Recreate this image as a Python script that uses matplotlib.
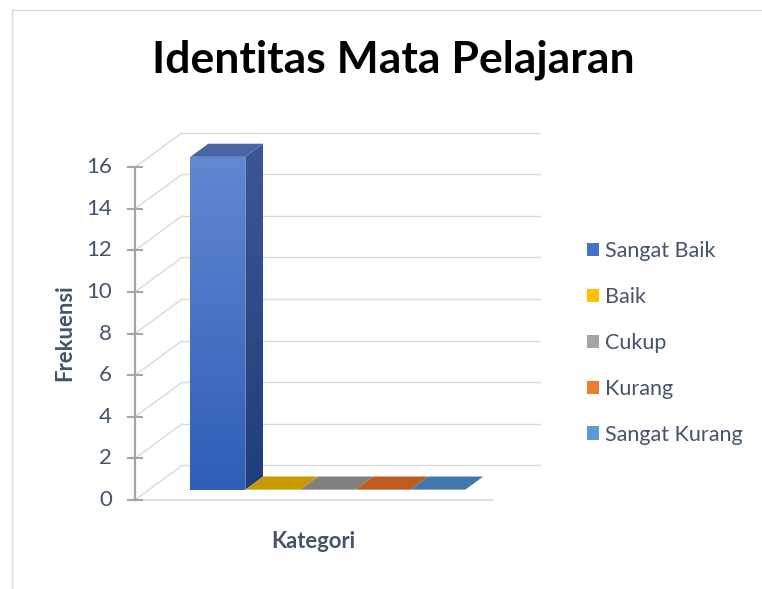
import numpy as np
import matplotlib.pyplot as plt
from matplotlib.patches import Polygon, Patch, Rectangle
from matplotlib.colors import LinearSegmentedColormap

# data
categories = ['Sangat Baik', 'Baik', 'Cukup', 'Kurang', 'Sangat Kurang']
frekuensi = [16, 0, 0, 0, 0]
y_ticks = [0, 2, 4, 6, 8, 10, 12, 14, 16]
legend_colors = ['#4472C4', '#FFC000', '#A5A5A5', '#ED7D31', '#5B9BD5']
top_colors = ['#4A65A3', '#C79A00', '#808080', '#BE5B1F', '#4177A9']

plt.rcParams['font.family'] = ['Lato', 'DejaVu Sans']
TXT = '#44546A'
GRID = '#D9D9D9'

fig = plt.figure(figsize=(7.62, 5.89), dpi=100)
ax = fig.add_axes([0, 0, 1, 1])
# one x unit = one column width, one y unit = one frequency step
ax.set_xlim(-135 / 55, 627 / 55)
ax.set_ylim(-89 / 20.8, 500 / 20.8)
ax.axis('off')

# oblique projection for the fake 3d look
DX, DY = 0.855, 1.66
W = 6.5
Z0, Z1 = 0.3, 0.68


def proj(x, y, z):
    return (x + z * DX, y + z * DY)


# back wall + left wall gridlines
for v in y_ticks:
    a, b = proj(0, v, 1), proj(W, v, 1)
    ax.plot([a[0], b[0]], [a[1], b[1]], color=GRID, lw=1, zorder=1)
    c = proj(0, v, 0)
    ax.plot([c[0], a[0]], [c[1], a[1]], color=GRID, lw=1, zorder=1)

# floor front edge
ax.plot([0, W], [0, 0], color=GRID, lw=1.2, zorder=1)

# vertical axis with crossing ticks
ax.plot([0, 0], [0, max(y_ticks)], color='#A6A6A6', lw=1.6, zorder=2)
for v in y_ticks:
    ax.plot([-0.13, 0.13], [v, v], color='#A6A6A6', lw=1.5, zorder=2)
    ax.text(-0.42, v, str(v), ha='right', va='center', fontsize=16, color=TXT)


def grad_face(poly_pts, c_top, c_bot, z):
    poly = Polygon(poly_pts, closed=True, facecolor='none', edgecolor='none')
    ax.add_patch(poly)
    xs = [p[0] for p in poly_pts]
    ys = [p[1] for p in poly_pts]
    cmap = LinearSegmentedColormap.from_list('g', [c_bot, c_top])
    grad = np.linspace(0, 1, 256).reshape(-1, 1)
    im = ax.imshow(grad, cmap=cmap, origin='lower', aspect='auto',
                   extent=[min(xs), max(xs), min(ys), max(ys)], zorder=z)
    im.set_clip_path(poly)


# columns
for i, val in enumerate(frekuensi):
    x0, x1 = 0.75 + i, 1.75 + i
    zo = 5 + i
    if val > 0:
        front = [proj(x0, 0, Z0), proj(x1, 0, Z0), proj(x1, val, Z0), proj(x0, val, Z0)]
        grad_face(front, '#6189D2', '#2F5EB7', zo)
        side = [proj(x1, 0, Z0), proj(x1, 0, Z1), proj(x1, val, Z1), proj(x1, val, Z0)]
        grad_face(side, '#3C5796', '#203E7B', zo)
    top = [proj(x0, val, Z0), proj(x1, val, Z0), proj(x1, val, Z1), proj(x0, val, Z1)]
    ax.add_patch(Polygon(top, closed=True, facecolor=top_colors[i],
                         edgecolor='none', zorder=zo))

ax.set_xlim(-135 / 55, 627 / 55)
ax.set_ylim(-89 / 20.8, 500 / 20.8)

# titles
fig.text(393 / 762, 1 - 60 / 589, 'Identitas Mata Pelajaran', ha='center', va='center',
         fontsize=32, fontweight='bold', color='black')
fig.text(65 / 762, 1 - 333 / 589, 'Frekuensi', ha='center', va='center', rotation=90,
         fontsize=15.8, fontweight='bold', color=TXT)
fig.text(313 / 762, 1 - 541 / 589, 'Kategori', ha='center', va='center',
         fontsize=15.8, fontweight='bold', color=TXT)

handles = [Patch(facecolor=c, edgecolor='none') for c in legend_colors]
ax.legend(handles, categories, loc='center left',
          bbox_to_anchor=(578 / 762, 1 - 343 / 589), bbox_transform=fig.transFigure,
          frameon=False, fontsize=15.5, labelcolor=TXT, handlelength=0.57,
          handleheight=0.57, handletextpad=0.3, labelspacing=1.2, borderaxespad=0)

# chart border (partly cut off in the screenshot)
fig.patches.append(Rectangle((12 / 762, -0.1), 1.2, 1 - 10 / 589 + 0.1,
                             transform=fig.transFigure, fill=False,
                             edgecolor=GRID, lw=1))

fig.savefig('out.png', dpi=100, facecolor='white')
